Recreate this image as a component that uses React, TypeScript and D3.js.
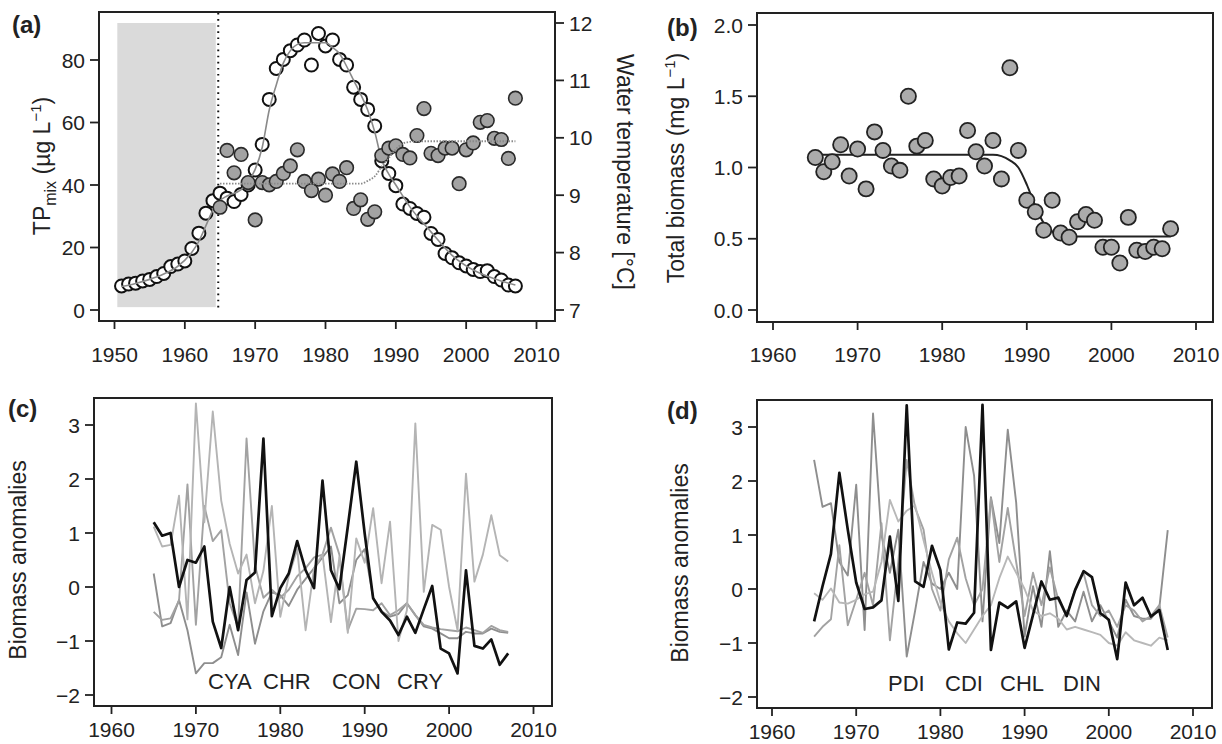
import React from 'react';
import * as d3 from 'd3';

const FONT = "'Liberation Sans', Arial, Helvetica, sans-serif";

// ---------- Panel (a) data ----------
const tpYears = d3.range(1951, 2008);
const tpValues = [7.7, 8.3, 8.6, 9.3, 9.8, 10.7, 11.7, 13.9, 14.7, 15.7, 19.7, 24.6, 31, 35, 37.4, 35.8, 34.7, 37, 40, 44.8,
  53, 67.4, 77.3, 80.2, 83, 84.8, 86.4, 78.4, 88.5, 84.5, 86.4, 80.2, 78.4, 71.3, 67.4, 64.2, 58.9, 47.7, 43.7, 39.8,
  33.9, 32.5, 30.9, 29.7, 24.5, 22.6, 18.1, 16.7, 15.1, 14.1, 13, 12.3, 12.6, 10.7, 9.6, 8, 7.7];
const tempYears = d3.range(1965, 2008);
const tempValues = [8.79, 9.78, 9.39, 9.71, 9.22, 8.57, 9.22, 9.18, 9.24, 9.38, 9.51, 9.79, 9.24, 9.08, 9.28, 9.0, 9.37,
  9.24, 9.48, 8.77, 8.92, 8.58, 8.71, 9.69, 9.82, 9.86, 9.71, 9.65, 10.04, 10.51, 9.73, 9.69, 9.82, 9.82, 9.2, 9.79,
  9.91, 10.27, 10.3, 9.99, 9.97, 9.64, 10.69];
const tpFitYears = [1951, 1953, 1955, 1957, 1959, 1961, 1962, 1963, 1964, 1965, 1966, 1968, 1969, 1970, 1971, 1972, 1973,
  1974, 1975, 1976, 1977, 1980, 1981, 1982, 1983, 1984, 1985, 1986, 1987, 1988, 1989, 1990, 1992, 1995, 1998, 2001, 2004, 2007];
const tpFitValues = [7.5, 8.5, 9.8, 11.5, 14, 18.5, 22, 27, 32, 35, 36.5, 38.5, 41, 45, 52, 64, 72, 79, 83, 85, 85.5,
  85.5, 84, 82, 78, 73.5, 69, 64, 57, 48, 43.5, 40, 33, 25, 17.5, 12.8, 10, 8];
const tempFitYears = [1965, 1985, 1986, 1987, 1988, 1989, 1990, 1991, 1992, 1993, 2007];
const tempFitValues = [9.2, 9.2, 9.25, 9.33, 9.5, 9.65, 9.8, 9.9, 9.93, 9.94, 9.94];
const aXTicks = [1950, 1960, 1970, 1980, 1990, 2000, 2010];
const aTPTicks = [0, 20, 40, 60, 80];
const aTempTicks = [7, 8, 9, 10, 11, 12];
const shadeYears = [1950.4, 1964.4];
const shadeTemps = [7.05, 12.0];
const breakYear = 1964.75;

// ---------- Panel (b) data ----------
const bioYears = d3.range(1965, 2008);
const bioValues = [1.07, 0.97, 1.04, 1.16, 0.94, 1.13, 0.85, 1.25, 1.12, 1.01, 0.98, 1.5, 1.15, 1.19, 0.92, 0.87, 0.93,
  0.94, 1.26, 1.11, 1.01, 1.19, 0.92, 1.7, 1.12, 0.77, 0.69, 0.56, 0.77, 0.54, 0.51, 0.62, 0.67, 0.63, 0.44, 0.44,
  0.33, 0.65, 0.42, 0.41, 0.44, 0.43, 0.57];
const bioFitYears = [1965, 1986, 1987, 1988, 1989, 1990, 1991, 1992, 1993, 1994, 1995, 2007];
const bioFitValues = [1.09, 1.09, 1.08, 1.05, 1.0, 0.88, 0.73, 0.61, 0.55, 0.525, 0.515, 0.515];
const bXTicks = [1960, 1970, 1980, 1990, 2000, 2010];
const bYTicks = [0, 0.5, 1.0, 1.5, 2.0];

// ---------- Panels (c) and (d) data ----------
const anomYears = d3.range(1965, 2008);
const anomXTicks = [1960, 1970, 1980, 1990, 2000, 2010];
const anomYTicks = [-2, -1, 0, 1, 2, 3];
const cLabels = ['CYA', 'CHR', 'CON', 'CRY'];
const dLabels = ['PDI', 'CDI', 'CHL', 'DIN'];

const cBlack = [1.2, 0.95, 1.0, 0.0, 0.5, 0.45, 0.75, -0.64, -1.13, 0.0, -0.8, 0.13, 0.27, 2.75, -0.54, -0.02, 0.25,
  0.85, 0.31, -0.02, 1.97, 0.31, -0.04, 1.12, 2.32, 0.99, -0.21, -0.46, -0.62, -0.89, -0.55, -0.85, -0.41, 0.02, -1.14,
  -1.23, -1.6, 0.31, -1.09, -1.14, -0.97, -1.44, -1.23];
const cGrayA = [1.12, 0.75, 0.78, 1.69, -0.6, 3.4, 1.2, 3.25, 1.6, 0.8, 0.25, 0.6, -0.3, 0.3, 1.5, -0.55, 0.2, 0.7,
  -0.8, 0.35, 0.6, -0.65, 0.55, -0.85, 0.9, 0.45, 1.46, 0.07, 1.21, -1.0, -0.43, 3.03, -0.09, 1.15, 1.06, 0.0, -0.8,
  2.1, 0.1, 0.6, 1.33, 0.59, 0.47];
const cGrayB = [0.25, -0.73, -0.67, -0.24, -0.8, -1.6, -1.41, -1.41, -1.3, -0.7, -1.26, -0.1, -1.05, -0.45, -0.1,
  -0.15, -0.35, -0.05, 0.15, 0.35, 0.55, 0.75, -0.3, -0.15, 0.5, 0.7, -0.2, -0.45, -0.55, -0.5, -0.3, -0.52, -0.73,
  -0.77, -0.86, -0.95, -0.95, -0.83, -0.86, -0.86, -0.77, -0.83, -0.85];
const cGrayC = [-0.46, -0.61, -0.58, -0.25, 1.9, -0.7, 1.5, 0.85, 1.05, -0.3, -0.75, 2.75, 0.4, -0.2, -0.05, -0.2,
  -0.05, 0.2, 0.35, 0.55, 0.6, 1.1, 0.6, -0.8, -0.4, -0.41, -0.43, -0.3, -0.52, -0.43, -0.3, -0.52, -0.7, -0.75, -0.78,
  -0.8, -0.82, -0.75, -0.8, -0.85, -0.72, -0.8, -0.83];

const dBlack = [-0.6, 0.05, 0.65, 2.15, 1.1, 0.12, -0.37, -0.34, -0.21, 0.97, -0.22, 3.4, 0.14, 0.04, 0.8, 0.35, -1.12,
  -0.62, -0.64, -0.44, 3.41, -1.13, -0.25, -0.35, -0.23, -1.09, -0.48, 0.14, -0.2, -0.16, -0.5, -0.02, 0.33, 0.22,
  -0.45, -0.57, -1.3, 0.12, -0.3, -0.16, -0.51, -0.39, -1.13];
const dGrayA = [2.39, 1.52, 1.59, 0.5, 0.25, 1.93, -0.76, 3.25, 1.0, 0.3, 1.1, -1.25, -0.4, 0.5, 0.1, 0.0, 0.3, 0.0,
  3.0, 2.1, -0.6, 1.7, 0.85, 2.95, 1.6, -0.88, 0.05, -0.7, 0.7, -0.7, -0.4, -0.6, -0.05, -0.6, -0.3, -0.6, -0.9, -0.2,
  -0.5, -0.55, -0.55, -0.35, 1.09];
const dGrayB = [-0.88, -0.7, -0.56, 0.81, -0.67, -0.2, 0.3, -0.3, 1.22, -0.95, 0.5, 2.39, 1.5, 1.1, 0.0, -0.4, 0.55,
  0.95, 0.2, -0.3, 0.0, 1.68, 0.5, 1.5, 0.5, -0.5, 0.3, -0.3, 0.4, -0.2, -0.5, 0.0, 0.3, -0.3, -0.5, -0.4, -0.7, -0.3,
  -0.4, -0.6, -0.5, -0.3, -0.9];
const dGrayC = [-0.08, -0.2, 0.01, -0.25, -0.27, -0.2, -0.1, -0.05, 0.5, 1.65, 1.25, 1.45, 1.55, 0.9, 0.3, -0.25, -0.6,
  -0.82, -1.0, -0.75, -0.5, -0.3, 0.2, 0.6, 0.3, 0.0, -0.4, -0.5, -0.45, -0.55, -0.75, -0.7, -0.75, -0.8, -0.85, -1.0,
  -1.05, -0.8, -0.95, -1.0, -1.05, -0.9, -0.95];

const AXIS = '#222';

type Scale = d3.ScaleLinear<number, number>;

function XAxis({ x, ticks, y, labelDy }: { x: Scale; ticks: number[]; y: number; labelDy: number }) {
  return (
    <g>
      <line x1={x(ticks[0])} x2={x(ticks[ticks.length - 1])} y1={y} y2={y} stroke={AXIS} strokeWidth={1.8} />
      {ticks.map(t => (
        <g key={t}>
          <line x1={x(t)} x2={x(t)} y1={y} y2={y + 8} stroke={AXIS} strokeWidth={1.8} />
          <text x={x(t)} y={y + labelDy} textAnchor="middle" fontSize={21} fill="#222">{t}</text>
        </g>
      ))}
    </g>
  );
}

function YAxis({ y, ticks, x, side, fmt }: { y: Scale; ticks: number[]; x: number; side: 'left' | 'right'; fmt: (v: number) => string }) {
  const dir = side === 'left' ? -1 : 1;
  return (
    <g>
      <line x1={x} x2={x} y1={y(ticks[0])} y2={y(ticks[ticks.length - 1])} stroke={AXIS} strokeWidth={1.8} />
      {ticks.map(t => (
        <g key={t}>
          <line x1={x} x2={x + dir * 9} y1={y(t)} y2={y(t)} stroke={AXIS} strokeWidth={1.8} />
          <text x={x + dir * 14} y={y(t) + 7.5} textAnchor={side === 'left' ? 'end' : 'start'} fontSize={21} fill="#222">{fmt(t)}</text>
        </g>
      ))}
    </g>
  );
}

function Box({ l, r, t, b }: { l: number; r: number; t: number; b: number }) {
  return <rect x={l} y={t} width={r - l} height={b - t} fill="none" stroke={AXIS} strokeWidth={2} />;
}

function PanelA() {
  const x = d3.scaleLinear().domain([1950, 2010]).range([114.5, 536.5]);
  const yTP = d3.scaleLinear().domain([0, 80]).range([310, 60]);
  const yT = d3.scaleLinear().domain([7, 12]).range([310, 23]);
  const tpFitLine = d3.line<number>().x((_, i) => x(tpFitYears[i])).y(d => yTP(d)).curve(d3.curveMonotoneX);
  const tempFitLine = d3.line<number>().x((_, i) => x(tempFitYears[i])).y(d => yT(d)).curve(d3.curveMonotoneX);
  return (
    <g>
      <rect x={x(shadeYears[0])} width={x(shadeYears[1]) - x(shadeYears[0])} y={yT(shadeTemps[1])}
        height={yT(shadeTemps[0]) - yT(shadeTemps[1])} fill="#dadada" />
      <line x1={x(breakYear)} x2={x(breakYear)} y1={13} y2={312} stroke="#111" strokeWidth={2} strokeDasharray="1.6,4.5" />
      {tpValues.map((v, i) => (
        <circle key={'tp' + i} cx={x(tpYears[i])} cy={yTP(v)} r={6.5} fill="#fff" stroke="#111" strokeWidth={2} />
      ))}
      <path d={tpFitLine(tpFitValues) || ''} fill="none" stroke="#8a8a8a" strokeWidth={1.6} />
      {tempValues.map((v, i) => (
        <circle key={'t' + i} cx={x(tempYears[i])} cy={yT(v)} r={6.8} fill="#a3a3a3" stroke="#2a2a2a" strokeWidth={1.6} />
      ))}
      <path d={tempFitLine(tempFitValues) || ''} fill="none" stroke="#8a8a8a" strokeWidth={1.8} strokeDasharray="1.5,1.5" />
      <Box l={99} r={555} t={12} b={321} />
      <XAxis x={x} ticks={aXTicks} y={321} labelDy={41} />
      <YAxis y={yTP} ticks={aTPTicks} x={99} side="left" fmt={d => String(d)} />
      <YAxis y={yT} ticks={aTempTicks} x={555} side="right" fmt={d => String(d)} />
      <text transform="translate(50,166) rotate(-90)" textAnchor="middle" fontSize={23} fill="#222">
        TP<tspan fontSize={16} dy={6}>mix</tspan><tspan dy={-6}> (µg L</tspan><tspan fontSize={15} dy={-9}>−1</tspan><tspan dy={9}>)</tspan>
      </text>
      <text transform="translate(617,172) rotate(90)" textAnchor="middle" fontSize={23} fill="#222">Water temperature [°C]</text>
      <text x={12} y={33} fontSize={24} fontWeight="bold" fill="#222">(a)</text>
    </g>
  );
}

function PanelB() {
  const x = d3.scaleLinear().domain([1960, 2010]).range([773, 1196]);
  const y = d3.scaleLinear().domain([0, 2]).range([310, 25]);
  const fit = d3.line<number>().x((_, i) => x(bioFitYears[i])).y(d => y(d)).curve(d3.curveMonotoneX);
  return (
    <g>
      <path d={fit(bioFitValues) || ''} fill="none" stroke="#222" strokeWidth={2} />
      {bioValues.map((v, i) => (
        <circle key={i} cx={x(bioYears[i])} cy={y(v)} r={7.6} fill="#ababab" stroke="#222" strokeWidth={1.8} />
      ))}
      <Box l={757} r={1213} t={13} b={322} />
      <XAxis x={x} ticks={bXTicks} y={322} labelDy={40} />
      <YAxis y={y} ticks={bYTicks} x={757} side="left" fmt={d3.format('.1f')} />
      <text transform="translate(684,168) rotate(-90)" textAnchor="middle" fontSize={23} fill="#222">
        Total biomass (mg L<tspan fontSize={15} dy={-9}>−1</tspan><tspan dy={9}>)</tspan>
      </text>
      <text x={667} y={36} fontSize={24} fontWeight="bold" fill="#222">(b)</text>
    </g>
  );
}

function AnomPanel({ x, y, box, black, grays, labels, labelX, labelY, tag, tagX, tagY, titleX, titleY }: {
  x: Scale; y: Scale; box: { l: number; r: number; t: number; b: number }; black: number[]; grays: { v: number[]; c: string }[];
  labels: string[]; labelX: number[]; labelY: number; tag: string; tagX: number; tagY: number; titleX: number; titleY: number;
}) {
  const line = d3.line<number>().x((_, i) => x(anomYears[i])).y(d => y(d));
  return (
    <g>
      {grays.map((g, k) => (
        <path key={k} d={line(g.v) || ''} fill="none" stroke={g.c} strokeWidth={1.9} strokeLinejoin="round" />
      ))}
      <path d={line(black) || ''} fill="none" stroke="#111" strokeWidth={2.7} strokeLinejoin="round" />
      {labels.map((t, i) => (
        <text key={t} x={labelX[i]} y={labelY} fontSize={22} fill="#222">{t}</text>
      ))}
      <Box {...box} />
      <XAxis x={x} ticks={anomXTicks} y={box.b} labelDy={31} />
      <YAxis y={y} ticks={anomYTicks} x={box.l} side="left" fmt={d3.format('d')} />
      <text transform={`translate(${titleX},${titleY}) rotate(-90)`} textAnchor="middle" fontSize={23} fill="#222">Biomass anomalies</text>
      <text x={tagX} y={tagY} fontSize={24} fontWeight="bold" fill="#222">{tag}</text>
    </g>
  );
}

export default function App() {
  const xc = d3.scaleLinear().domain([1960, 2010]).range([111.5, 533.5]);
  const yc = d3.scaleLinear().domain([-2, 3]).range([695, 425]);
  const xd = d3.scaleLinear().domain([1960, 2010]).range([772, 1193]);
  const yd = d3.scaleLinear().domain([-2, 3]).range([697, 427]);
  return (
    <div style={{ position: 'fixed', left: 0, top: 0 }}>
      <svg width={1222} height={744} style={{ display: 'block', background: '#fff', fontFamily: FONT }}>
        <PanelA />
        <PanelB />
        <AnomPanel x={xc} y={yc} box={{ l: 94, r: 552, t: 398, b: 706 }} black={cBlack}
          grays={[{ v: cGrayB, c: '#8e8e8e' }, { v: cGrayC, c: '#a2a2a2' }, { v: cGrayA, c: '#b4b4b4' }]}
          labels={cLabels} labelX={[208, 263, 332, 397]} labelY={689} tag="(c)" tagX={8} tagY={417}
          titleX={26} titleY={560} />
        <AnomPanel x={xd} y={yd} box={{ l: 757, r: 1212, t: 400, b: 708 }} black={dBlack}
          grays={[{ v: dGrayA, c: '#8e8e8e' }, { v: dGrayB, c: '#a2a2a2' }, { v: dGrayC, c: '#b8b8b8' }]}
          labels={dLabels} labelX={[888, 945, 1000, 1063]} labelY={691} tag="(d)" tagX={667} tagY={419}
          titleX={688} titleY={563} />
      </svg>
    </div>
  );
}
